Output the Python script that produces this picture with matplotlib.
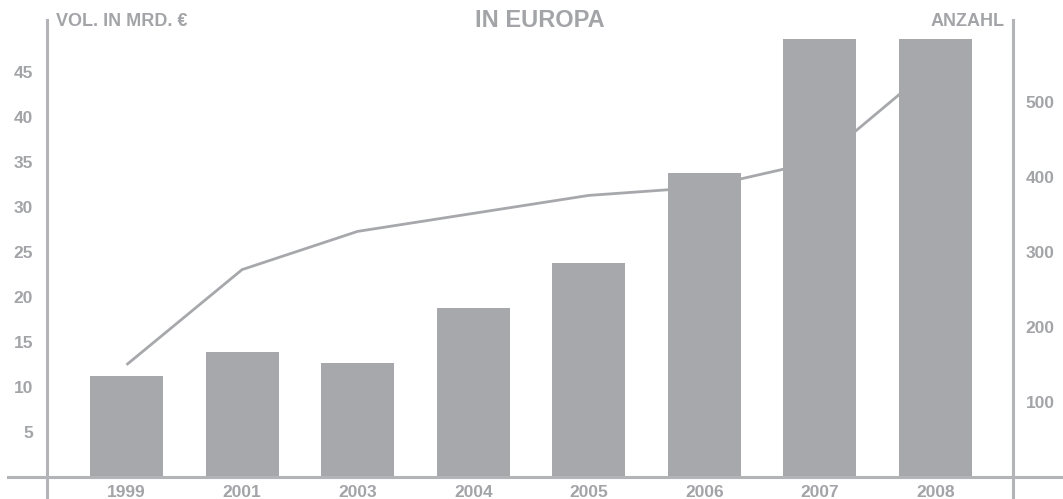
import numpy as np
import matplotlib.pyplot as plt
from matplotlib.lines import Line2D

years = ['1999', '2001', '2003', '2004', '2005', '2006', '2007', '2008']
volumen = [11.2, 13.8, 12.6, 18.8, 23.8, 33.8, 48.7, 48.7]
anzahl = [149, 276, 327, 351, 375, 386, 421, 550]

left_ticks = [5, 10, 15, 20, 25, 30, 35, 40, 45]
right_ticks = [100, 200, 300, 400, 500]

W, H = 1063, 499
bar_col = '#a7a8ab'
txt_col = '#a3a4a7'
axis_col = '#b3b4b7'
plt.rcParams['font.family'] = ['Liberation Sans', 'DejaVu Sans']

fig = plt.figure(figsize=(W / 100, H / 100), dpi=100)
x_left, x_right = 47, 1013
y_base, y_top = 476.5, 20
ax = fig.add_axes([x_left / W, (H - y_base) / H, (x_right - x_left) / W, (y_base - y_top) / H])
ax2 = ax.twinx()

x = np.arange(len(years))
ax.bar(x, volumen, width=0.632, color=bar_col, zorder=3)
ax2.plot(x, anzahl, color=bar_col, lw=2.0, solid_capstyle='butt')

# bars over the line
ax.set_zorder(ax2.get_zorder() + 1)
ax.patch.set_visible(False)

ax.set_xlim(-0.688, 7.671)
ax.set_ylim(0, 50.8)
ax2.set_ylim(0, 609)

for a in (ax, ax2):
    for s in a.spines.values():
        s.set_visible(False)

ax.set_yticks(left_ticks)
ax.set_yticklabels([str(t) for t in left_ticks])
ax2.set_yticks(right_ticks)
ax2.set_yticklabels([str(t) for t in right_ticks])
ax.set_xticks(x)
ax.set_xticklabels(years)

ax.tick_params(axis='y', length=0, pad=10, labelsize=12.5, labelcolor=txt_col)
ax2.tick_params(axis='y', length=0, pad=9, labelsize=12.5, labelcolor=txt_col)
ax.tick_params(axis='x', length=0, pad=6, labelsize=12.5, labelcolor=txt_col)
for lab in ax.get_yticklabels() + ax2.get_yticklabels() + ax.get_xticklabels():
    lab.set_fontweight('bold')

# axis lines that run past the plot
def fx(px):
    return px / W

def fy(py):
    return (H - py) / H

fig.add_artist(Line2D([fx(8), fx(W)], [fy(y_base), fy(y_base)], color=axis_col, lw=2.2))
fig.add_artist(Line2D([fx(x_left), fx(x_left)], [fy(y_top), fy(H)], color=axis_col, lw=2.2))
fig.add_artist(Line2D([fx(x_right), fx(x_right)], [fy(y_top), fy(H)], color=axis_col, lw=2.2))

fig.text(fx(540), fy(27), 'IN EUROPA', ha='center', va='baseline',
         fontsize=17, fontweight='bold', color=txt_col)
fig.text(fx(56), fy(26), 'VOL. IN MRD. €', ha='left', va='baseline',
         fontsize=13, fontweight='bold', color=txt_col)
fig.text(fx(1005), fy(26), 'ANZAHL', ha='right', va='baseline',
         fontsize=13, fontweight='bold', color=txt_col)

fig.savefig('out.png', dpi=100)
